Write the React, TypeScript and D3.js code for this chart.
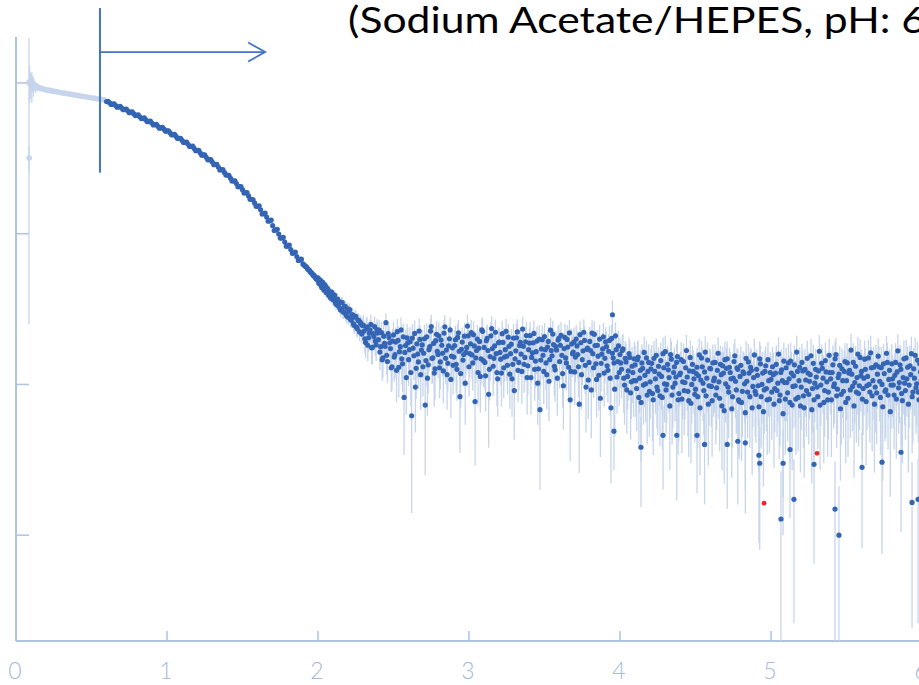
import React from 'react';
import * as d3 from 'd3';

const titleText = '(Sodium Acetate/HEPES, pH: 6';
const xTicks = [0, 1, 2, 3, 4, 5, 6];
const yTicks = [1, 10, 100, 1000];
const xDomain = [0, 6];
const yDomain = [0.1986, 2018];

// excluded low-q points (light)
const lowQ = [0.086, 0.087, 0.09, 0.095, 0.1, 0.105, 0.11, 0.115, 0.12, 0.13, 0.14, 0.15, 0.16, 0.17, 0.18, 0.19, 0.2, 0.21, 0.22, 0.23, 0.24, 0.25, 0.26, 0.27, 0.28, 0.3, 0.32, 0.34, 0.36, 0.38, 0.4, 0.42, 0.44, 0.46, 0.48, 0.5, 0.52, 0.54, 0.56, 0.58];
const lowI = [1005, 318, 1020, 980, 1000, 960, 990, 950, 970, 940, 945, 930, 925, 918, 912, 905, 900, 897, 893, 889, 885, 881, 878, 874, 870, 862, 856, 850, 843, 836, 830, 822, 816, 810, 803, 797, 790, 785, 780, 775];
const lowErr = [980, 60, 290, 200, 150, 220, 120, 140, 90, 80, 60, 50, 45, 40, 36, 34, 30, 30, 28, 28, 26, 26, 24, 24, 24, 22, 22, 20, 20, 18, 18, 18, 17, 17, 16, 16, 16, 15, 15, 15];

// smooth part of the used range
const smoothQ = [0.6, 0.62, 0.64, 0.66, 0.68, 0.7, 0.72, 0.74, 0.76, 0.78, 0.8, 0.82, 0.84, 0.86, 0.88, 0.9, 0.92, 0.94, 0.96, 0.98, 1.0, 1.02, 1.04, 1.06, 1.08, 1.1, 1.12, 1.14, 1.16, 1.18, 1.2, 1.22, 1.24, 1.26, 1.28, 1.3, 1.32, 1.34, 1.36, 1.38, 1.4, 1.42, 1.44, 1.46, 1.48, 1.5, 1.52, 1.54, 1.56, 1.58, 1.6, 1.62, 1.64, 1.66, 1.68, 1.7, 1.72, 1.74, 1.76, 1.78, 1.8, 1.82, 1.84, 1.86, 1.88];
const smoothI = [752, 738, 723, 708, 695, 681, 667, 653, 640, 625, 611, 597, 583, 569, 556, 542, 530, 516, 504, 494, 481, 468, 454, 442, 429, 416, 404, 392, 380, 368, 356, 344, 333, 321, 310, 299, 288, 277, 266, 255, 245, 234, 224, 215, 205, 196, 187, 178, 169, 160, 152, 144, 136, 129, 122, 113, 106, 99.5, 93.5, 88, 83, 78.5, 74.5, 70.5, 67];
const smoothQ2 = [0.61, 0.63, 0.65, 0.67, 0.69, 0.71, 0.73, 0.75, 0.77, 0.79, 0.81, 0.83, 0.85, 0.87, 0.89, 0.91, 0.93, 0.95, 0.97, 0.99, 1.01, 1.03, 1.05, 1.07, 1.09, 1.11, 1.13, 1.15, 1.17, 1.19, 1.21, 1.23, 1.25, 1.27, 1.29, 1.31, 1.33, 1.35, 1.37, 1.39, 1.41, 1.43, 1.45, 1.47, 1.49, 1.51, 1.53, 1.55, 1.57, 1.59, 1.61, 1.63, 1.65, 1.67, 1.69, 1.71, 1.73, 1.75, 1.77, 1.79, 1.81, 1.83, 1.85, 1.87, 1.89];
const smoothI2 = [755, 721, 727, 690, 699, 664, 671, 635, 643, 608, 614, 580, 586, 553, 558, 527, 532, 501, 507, 479, 482, 453, 456, 428, 429, 403, 405, 379, 381, 355, 357, 332, 333, 309, 310, 287, 288, 265, 266, 245, 244, 224, 224, 205, 205, 186, 187, 169, 168, 152, 153, 135, 137, 121, 123, 105, 107, 93.5, 94.5, 82.5, 84, 74, 75.5, 66.5, 67.8];

// noisy part: two interleaved sets of rows, ten points per 0.1 in q
const denseStartQ = 1.9;
const denseStartQB = 1.905;
const denseStepQ = 0.01;
const denseRows = [
  [63.0, 61.6, 60.5, 58.6, 57.4, 55.4, 54.5, 52.6, 51.6, 49.9],
  [51.0, 46.5, 45.3, 47.8, 42.2, 44.6, 43.5, 39.1, 38.2, 41.0],
  [36.4, 39.2, 34.0, 36.8, 35.5, 31.2, 34.9, 30.1, 33.0, 28.4],
  [27.9, 31.4, 26.7, 29.0, 24.6, 28.3, 23.4, 26.6, 25.8, 21.6],
  [24.8, 20.1, 23.5, 18.2, 21.9, 25.0, 17.6, 20.8, 19.4, 23.1],
  [19.8, 16.4, 22.1, 15.0, 18.7, 25.7, 14.2, 20.5, 17.3, 13.1],
  [21.3, 15.8, 12.4, 19.6, 16.5, 23.0, 13.7, 8.2, 18.1, 20.4],
  [14.6, 19.2, 6.2, 17.4, 21.8, 12.8, 15.9, 22.6, 11.6, 18.3],
  [16.1, 7.3, 20.7, 13.5, 17.8, 24.2, 15.0, 11.9, 19.5, 16.6],
  [21.0, 14.1, 18.2, 12.3, 24.1, 16.9, 13.8, 20.1, 10.8, 17.5],
  [15.2, 19.8, 12.6, 22.0, 8.3, 17.1, 14.5, 20.9, 16.3, 24.4],
  [13.1, 18.6, 15.7, 21.4, 7.7, 16.8, 12.0, 19.3, 14.8, 22.5],
  [17.6, 11.4, 20.2, 8.6, 15.3, 23.5, 13.2, 18.0, 16.0, 10.9],
  [19.1, 14.7, 21.7, 12.9, 17.0, 15.4, 20.6, 11.7, 18.5, 13.6],
  [9.1, 16.7, 22.3, 14.0, 19.0, 12.2, 17.9, 15.1, 21.1, 13.3],
  [18.8, 11.1, 16.2, 21.8, 14.3, 19.4, 12.7, 6.8, 17.2, 15.6],
  [20.8, 13.9, 17.7, 10.5, 22.9, 15.5, 18.4, 12.5, 16.9, 19.7],
  [14.2, 21.2, 11.8, 17.3, 15.0, 19.9, 13.0, 7.9, 18.6, 16.4],
  [12.1, 20.0, 15.8, 7.4, 18.9, 14.6, 22.2, 13.4, 17.1, 10.7],
  [19.3, 9.2, 16.0, 21.5, 13.7, 18.2, 11.5, 8.1, 15.9, 20.7],
  [14.9, 17.8, 12.4, 19.6, 7.0, 16.1, 13.9, 21.0, 11.2, 18.0],
  [15.8, 12.6, 17.2, 9.9, 14.1, 11.3, 16.0, 8.8, 13.2, 10.6],
  [13.5, 9.4, 15.2, 11.0, 7.6, 12.8, 16.3, 10.1, 8.5, 14.0],
  [10.4, 13.8, 7.9, 12.2, 15.6, 9.1, 11.7, 14.4, 8.2, 12.9],
  [16.5, 10.0, 12.5, 7.2, 14.7, 9.6, 13.1, 11.2, 15.3, 8.7],
  [11.9, 8.0, 14.2, 10.3, 16.8, 9.0, 12.3, 7.5, 13.6, 10.9],
  [9.3, 13.0, 11.4, 7.0, 15.0, 10.2, 12.1, 8.4, 14.5, 9.8],
  [12.7, 7.8, 10.6, 14.0, 9.5, 16.1, 8.1, 11.6, 13.3, 6.7],
  [10.1, 14.8, 8.9, 12.0, 6.9, 11.0, 15.5, 9.2, 12.6, 7.7],
  [13.4, 9.0, 11.8, 6.5, 10.5, 14.1, 8.3, 12.4, 9.7, 15.7],
  [8.6, 11.5, 7.1, 13.7, 10.0, 6.6, 12.2, 9.4, 14.6, 8.0],
  [10.8, 13.1, 7.4, 11.9, 9.1, 15.9, 8.5, 12.5, 6.4, 10.3],
  [12.9, 8.8, 10.9, 14.3, 7.3, 11.4, 9.8, 16.4, 8.2, 13.0],
  [9.6, 12.3, 7.0, 10.7, 14.9, 8.6, 11.6, 6.8, 13.8, 10.2],
  [11.2, 8.3, 16.6, 9.9, 12.8, 7.6, 14.4, 10.4, 8.9, 12.0],
  [7.9, 13.5, 10.1, 15.8, 9.3, 11.7, 6.9, 12.7, 9.0, 14.2],
  [10.6, 8.1, 12.4, 16.9, 9.7, 7.2, 13.2, 11.1, 8.7, 15.1],
  [12.2, 9.4, 14.7, 7.7, 11.3, 10.0, 16.2, 8.4, 13.0, 9.6],
  [8.8, 15.4, 10.5, 12.9, 7.1, 11.8, 9.2, 14.0, 10.8, 6.6],
  [13.7, 9.9, 11.5, 8.0, 16.7, 10.3, 12.6, 7.8, 14.8, 9.1],
  [10.9, 7.4, 13.3, 16.0, 8.9, 11.0, 9.5, 14.5, 7.9, 12.1],
  [9.4, 13.6, 8.2, 11.7, 15.2],
];
const denseRowsB = [
  [62.4, 61.0, 59.9, 58.0, 56.9, 55.2, 53.6, 52.9, 50.8, 49.6],
  [47.1, 49.3, 44.0, 43.4, 46.0, 40.6, 42.9, 41.5, 37.3, 39.8],
  [38.9, 35.0, 36.6, 33.2, 32.0, 35.1, 30.5, 32.9, 29.2, 31.8],
  [30.6, 27.1, 28.9, 25.2, 27.9, 24.0, 26.7, 22.3, 25.1, 24.6],
  [22.6, 19.0, 24.1, 20.4, 23.0, 17.5, 21.7, 24.2, 18.3, 21.9],
  [22.9, 17.8, 14.6, 20.9, 17.9, 15.6, 21.7, 18.9, 12.9, 19.4],
  [15.2, 19.1, 22.4, 13.0, 17.8, 14.8, 20.7, 16.3, 11.1, 18.9],
  [17.0, 12.0, 20.3, 15.5, 9.6, 18.6, 14.1, 19.9, 16.9, 13.1],
  [20.1, 14.4, 11.0, 17.0, 22.6, 14.9, 18.7, 12.7, 21.5, 15.8],
  [12.9, 19.7, 16.1, 21.9, 14.9, 11.6, 18.0, 23.0, 15.4, 13.4],
  [18.1, 13.6, 20.5, 16.6, 11.8, 19.1, 15.8, 10.2, 17.6, 21.0],
  [16.0, 22.1, 13.9, 18.0, 15.0, 20.0, 17.4, 11.3, 23.0, 14.4],
  [14.0, 19.5, 16.8, 12.6, 21.0, 17.3, 14.9, 22.2, 12.0, 18.9],
  [16.3, 11.9, 19.0, 15.2, 22.5, 13.4, 17.9, 16.0, 10.9, 20.3],
  [14.8, 20.4, 12.4, 18.1, 15.9, 23.3, 13.6, 19.2, 11.1, 17.0],
  [21.1, 15.1, 18.9, 12.6, 16.5, 10.2, 20.0, 14.5, 19.8, 12.2],
  [17.0, 11.6, 19.3, 14.6, 16.8, 21.6, 13.2, 17.8, 11.0, 20.2],
  [18.2, 15.6, 9.8, 20.5, 13.9, 17.7, 22.0, 12.2, 16.0, 19.1],
  [15.2, 18.0, 13.1, 21.4, 11.6, 16.7, 19.6, 9.6, 17.4, 14.0],
  [16.8, 21.9, 12.9, 18.1, 10.8, 15.4, 20.0, 13.8, 17.2, 11.9],
  [19.2, 13.3, 16.6, 11.0, 20.2, 15.0, 9.3, 17.0, 14.2, 12.0],
  [13.9, 16.8, 11.0, 14.9, 9.2, 12.3, 15.1, 10.4, 12.0, 14.8],
  [10.6, 14.6, 8.2, 12.4, 13.9, 9.9, 11.5, 15.0, 12.2, 9.0],
  [12.7, 8.7, 14.9, 10.9, 9.6, 13.2, 8.4, 11.3, 16.0, 10.1],
  [9.2, 13.6, 11.1, 15.8, 8.5, 12.0, 10.2, 14.0, 7.9, 11.6],
  [14.6, 10.4, 9.1, 12.9, 11.2, 7.8, 15.1, 10.0, 12.2, 8.6],
  [11.8, 8.3, 15.7, 10.7, 13.1, 9.1, 16.4, 11.0, 7.4, 12.8],
  [9.7, 13.9, 11.0, 8.5, 12.4, 10.4, 13.6, 7.2, 11.9, 14.6],
  [12.8, 9.6, 13.0, 10.9, 8.3, 14.2, 10.5, 12.9, 7.9, 11.3],
  [7.6, 12.1, 10.1, 14.9, 8.9, 11.9, 13.0, 7.0, 11.1, 9.0],
  [12.6, 9.8, 14.8, 8.3, 11.9, 9.2, 13.3, 7.9, 10.6, 12.0],
  [8.9, 11.6, 9.4, 13.6, 10.2, 7.8, 12.0, 10.6, 14.3, 8.0],
  [10.3, 13.9, 7.6, 11.9, 9.7, 13.5, 8.0, 12.2, 10.6, 7.2],
  [14.0, 8.4, 12.6, 9.1, 11.9, 10.5, 15.5, 9.4, 7.9, 12.6],
  [9.6, 12.3, 7.3, 13.8, 11.0, 9.1, 12.1, 7.9, 15.6, 10.9],
  [12.0, 9.7, 14.8, 8.4, 11.1, 13.4, 8.6, 10.6, 12.2, 7.6],
  [13.9, 11.9, 9.2, 11.7, 14.0, 10.3, 8.9, 15.9, 9.8, 11.4],
  [8.0, 11.0, 12.6, 9.8, 15.0, 8.9, 12.9, 10.6, 7.4, 13.5],
  [11.7, 13.1, 8.2, 10.0, 13.7, 9.0, 16.1, 8.5, 12.4, 9.9],
  [10.9, 8.5, 14.0, 12.1, 9.5, 13.5, 8.7, 11.1, 10.2, 15.0],
  [13.0, 9.9, 11.6, 8.3, 12.7, 15.6, 10.1, 8.9, 13.7, 10.6],
  [11.8, 8.7, 14.3, 10.0, 12.5],
];

// absolute errors by q band (lookup)
const errBinQ = [0.6, 1.5, 1.9, 2.1, 2.3, 2.5, 4.0, 4.5, 5.0, 5.5];
const errBinVal = [4, 2.5, 2.5, 3, 4, 4.8, 4.5, 4.5, 4.6, 4.8];

// isolated points with their own errors
const outQ = [3.95, 3.96, 4.139, 4.285, 4.376, 4.51, 4.56, 4.71, 4.78, 4.83, 4.92, 4.925, 5.066, 5.08, 5.126, 5.152, 5.285, 5.424, 5.45, 5.603, 5.735, 5.861, 5.934, 5.974];
const outI = [29.0, 4.9, 3.83, 4.6, 4.6, 4.6, 4.0, 4.0, 4.2, 4.1, 3.39, 3.0, 1.28, 3.0, 3.7, 1.73, 2.95, 1.49, 1.0, 2.82, 3.05, 3.55, 1.65, 1.73];
const outErr = [7.0, 2.2, 2.3, 2.6, 2.9, 2.7, 2.4, 2.5, 2.6, 2.7, 2.5, 2.2, 1.4, 2.0, 2.4, 1.47, 2.3, 1.6, 1.1, 2.0, 2.3, 2.5, 1.41, 1.47];

// flagged points (red)
const redQ = [4.954, 5.305];
const redI = [1.63, 3.49];

// annotation: start of the used range
const cutoffQ = 0.556;
const arrowEndQ = 1.65;
const cutoffTopI = 3140;
const cutoffBottomI = 254;
const arrowI = 1603;

const W = 919;
const H = 685;

const C_DOT = '#3465b4';
const C_BAR = '#c6d5eb';
const C_AXIS = '#aec2e4';
const C_LABEL = '#a3b9df';
const C_ANNOT = '#4472c4';
const C_RED = '#e8282b';

function errFor(q: number): number {
  let v = errBinVal[0];
  for (let k = 0; k < errBinQ.length; k++) if (q >= errBinQ[k] - 1e-9) v = errBinVal[k];
  return v;
}

export default function App() {
  const x = d3.scaleLinear().domain(xDomain).range([16, 16 + 151 * 6]);
  const y = d3.scaleLog().domain(yDomain).range([641, 37]);
  const yBottom = 641;

  type P = { q: number; v: number; e: number };
  const low: P[] = lowQ.map((q, i) => ({ q, v: lowI[i], e: lowErr[i] }));
  const main: P[] = smoothQ.map((q, i) => ({ q, v: smoothI[i], e: errFor(q) }));
  smoothQ2.forEach((q, i) => main.push({ q, v: smoothI2[i], e: errFor(q) }));
  const addRows = (rows: number[][], start: number) =>
    rows.forEach((row, r) =>
      row.forEach((v, c) => {
        const q = start + (r * 10 + c) * denseStepQ;
        main.push({ q, v, e: errFor(q) });
      })
    );
  addRows(denseRows, denseStartQ);
  addRows(denseRowsB, denseStartQB);
  main.sort((a, b) => a.q - b.q);
  const outs: P[] = outQ.map((q, i) => ({ q, v: outI[i], e: outErr[i] }));

  const bar = (p: P, key: string) => {
    const lo = p.v - p.e;
    const y1 = Math.max(37, y(p.v + p.e));
    const y2 = lo > yDomain[0] ? y(lo) : yBottom;
    return <line key={key} x1={x(p.q)} x2={x(p.q)} y1={y1} y2={y2} stroke={C_BAR} strokeWidth={1.3} />;
  };

  const ax = x(cutoffQ);
  const ay = y(arrowI);
  const ex = x(arrowEndQ);

  return (
    <div style={{ position: 'fixed', left: 0, top: 0, width: W, height: H, overflow: 'hidden', background: '#fff' }}>
      <svg width={W} height={H} style={{ display: 'block' }}>
        <rect width={W} height={H} fill="#fff" />
        {/* axes */}
        <line x1={16} x2={W} y1={641} y2={641} stroke={C_AXIS} strokeWidth={2} />
        <line x1={16} x2={16} y1={37} y2={641} stroke={C_AXIS} strokeWidth={2} />
        {xTicks.filter((t) => t > 0).map((t) => (
          <line key={'xt' + t} x1={x(t)} x2={x(t)} y1={641} y2={631} stroke={C_AXIS} strokeWidth={1.5} />
        ))}
        {yTicks.map((t) => (
          <line key={'yt' + t} x1={16} x2={29} y1={y(t)} y2={y(t)} stroke={C_AXIS} strokeWidth={1.5} />
        ))}
        {xTicks.map((t) => (
          <text key={'xl' + t} x={x(t) - 1} y={679} textAnchor="middle" fill={C_LABEL}
            style={{ fontFamily: 'Lato, "Open Sans", sans-serif', fontSize: 23, fontWeight: 300 }}>
            {t}
          </text>
        ))}
        {/* error bars */}
        <g>{low.map((p, i) => bar(p, 'lb' + i))}</g>
        <g>{main.map((p, i) => bar(p, 'mb' + i))}</g>
        <g>{outs.map((p, i) => bar(p, 'ob' + i))}</g>
        {/* points */}
        <g>{low.map((p, i) => <circle key={'lc' + i} cx={x(p.q)} cy={y(p.v)} r={2.8} fill={C_BAR} />)}</g>
        <g>{main.map((p, i) => <circle key={'mc' + i} cx={x(p.q)} cy={y(p.v)} r={2.6} fill={C_DOT} />)}</g>
        <g>{outs.map((p, i) => <circle key={'oc' + i} cx={x(p.q)} cy={y(p.v)} r={2.6} fill={C_DOT} />)}</g>
        <g>{redQ.map((q, i) => <circle key={'rc' + i} cx={x(q)} cy={y(redI[i])} r={2.4} fill={C_RED} />)}</g>
        {/* annotation */}
        <line x1={ax} x2={ax} y1={y(cutoffTopI)} y2={y(cutoffBottomI)} stroke={C_ANNOT} strokeWidth={2} />
        <line x1={ax} x2={ex} y1={ay} y2={ay} stroke={C_ANNOT} strokeWidth={1.8} />
        <polyline points={`${ex - 17},${ay - 9.5} ${ex},${ay} ${ex - 17},${ay + 9.5}`} fill="none" stroke={C_ANNOT} strokeWidth={1.8} />
        <text x={348} y={33} textLength={578} lengthAdjust="spacingAndGlyphs" fill="#000"
          style={{ fontFamily: 'Lato, "Open Sans", sans-serif', fontSize: 37 }}>
          {titleText}
        </text>
      </svg>
    </div>
  );
}
